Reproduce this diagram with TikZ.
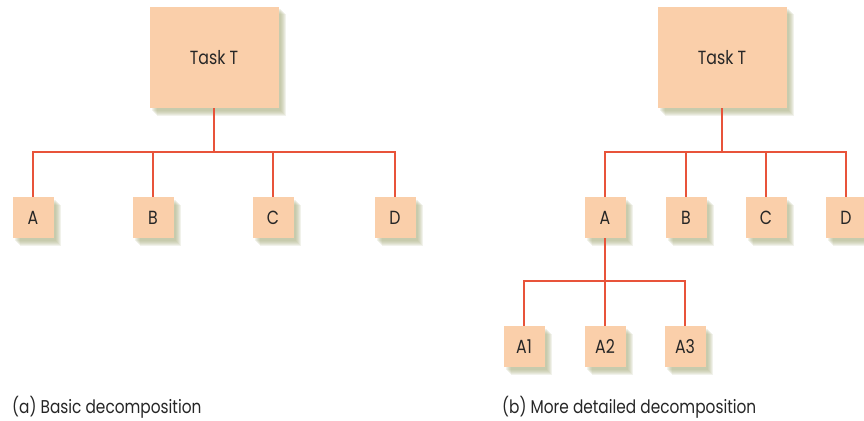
\documentclass[tikz,border=0pt]{standalone}
\usepackage{fontspec}
\setmainfont{Poppins}[FakeStretch=0.83]
\usetikzlibrary{shadows}
\definecolor{boxfill}{HTML}{FACFAA}
\definecolor{shade}{HTML}{A9AE80}
\definecolor{wire}{HTML}{E8533A}
\tikzset{
  softshadow/.style={
    general shadow={fill=shade, fill opacity=0.16, shadow xshift=2.5pt, shadow yshift=-2.5pt},
    general shadow={fill=shade, fill opacity=0.16, shadow xshift=3.5pt, shadow yshift=-3.5pt},
    general shadow={fill=shade, fill opacity=0.16, shadow xshift=4.5pt, shadow yshift=-4.5pt},
    general shadow={fill=shade, fill opacity=0.16, shadow xshift=5.5pt, shadow yshift=-5.5pt},
    general shadow={fill=shade, fill opacity=0.16, shadow xshift=6.5pt, shadow yshift=-6.5pt},
    general shadow={fill=shade, fill opacity=0.16, shadow xshift=7.5pt, shadow yshift=-7.5pt}},
  box/.style={fill=boxfill, draw=none, inner sep=0pt, text=black!85, font=\fontsize{19}{21}\selectfont, softshadow},
  big/.style={box, minimum width=129pt, minimum height=101pt},
  small/.style={box, minimum width=41pt, minimum height=41pt},
  link/.style={draw=wire, line width=2pt},
  captext/.style={font=\fontsize{18.5}{21}\selectfont, text=black!85, anchor=west, inner sep=0pt}
}
\begin{document}
\begin{tikzpicture}[x=1pt,y=-1pt]
\useasboundingbox (0,0) rectangle (864,420);
% (a)
\node[big] (T1) at (214,57.5) {Task T};
\node[small] (a1) at (33,217.5) {A};
\node[small] (b1) at (153,217.5) {B};
\node[small] (c1) at (273,217.5) {C};
\node[small] (d1) at (395,217.5) {D};
\coordinate (j1) at (214,152);
\draw[link] (T1.south) -- (j1);
\foreach \n in {a1,b1,c1,d1} \draw[link] (j1) -| (\n.north);
% (b)
\node[big] (T2) at (722,57.5) {Task T};
\node[small] (a2) at (605,217.5) {A};
\node[small] (b2) at (686,217.5) {B};
\node[small] (c2) at (766,217.5) {C};
\node[small] (d2) at (846,217.5) {D};
\coordinate (j2) at (722,152);
\draw[link] (T2.south) -- (j2);
\foreach \n in {a2,b2,c2,d2} \draw[link] (j2) -| (\n.north);
\node[small] (a21) at (524,346.5) {A1};
\node[small] (a22) at (605,346.5) {A2};
\node[small] (a23) at (685,346.5) {A3};
\coordinate (j3) at (605,281);
\draw[link] (a2.south) -- (j3);
\foreach \n in {a21,a22,a23} \draw[link] (j3) -| (\n.north);
\node[captext] (capa) at (12,407) {(a) Basic decomposition};
\node[captext] (capb) at (502,407) {(b) More detailed decomposition};
\end{tikzpicture}
\end{document}
